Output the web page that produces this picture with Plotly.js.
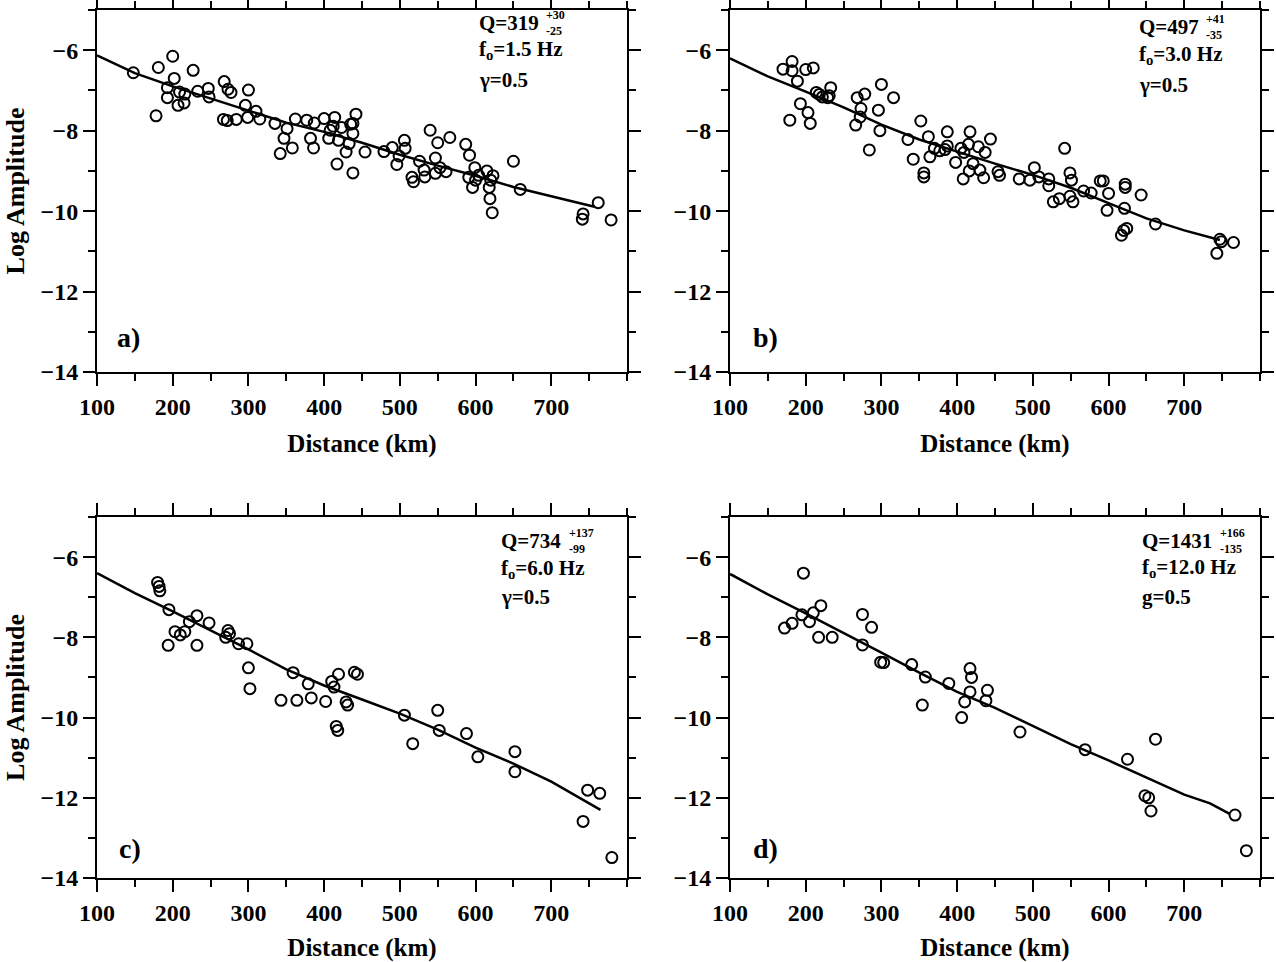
<!DOCTYPE html>
<html><head><meta charset="utf-8">
<script src="https://cdn.plot.ly/plotly-3.0.1.min.js"></script>
<style>html,body{margin:0;padding:0;background:#fff}</style>
</head><body><div id="plot" style="width:1277px;height:962px"></div>
<script>
// ---------- data ----------
const aDist = [148,181,200,227,202,193,209,216,193,215,207,178,233,247,248,268,273,277,300,296,310,299,315,267,272,284,335,351,347,358,342,362,377,387,382,386,400,414,412,408,423,435,442,438,438,433,429,417,438,419,406,454,479,490,506,507,499,496,526,540,550,566,547,553,532,561,516,518,533,547,587,592,599,591,596,600,604,615,623,620,618,619,622,650,659,762,742,741,779];
const aAmp  = [-6.56,-6.43,-6.15,-6.5,-6.70,-6.93,-7.04,-7.09,-7.18,-7.31,-7.37,-7.63,-7.02,-6.95,-7.16,-6.78,-6.97,-7.05,-6.99,-7.37,-7.52,-7.67,-7.71,-7.72,-7.75,-7.72,-7.82,-7.95,-8.19,-8.43,-8.57,-7.71,-7.74,-7.81,-8.19,-8.43,-7.70,-7.67,-7.89,-7.99,-7.92,-7.84,-7.59,-7.82,-8.07,-8.32,-8.53,-8.83,-9.05,-8.24,-8.19,-8.53,-8.52,-8.42,-8.24,-8.44,-8.63,-8.84,-8.76,-7.99,-8.30,-8.17,-8.68,-8.92,-8.98,-9.02,-9.16,-9.27,-9.15,-9.06,-8.34,-8.61,-8.92,-9.16,-9.41,-9.23,-9.11,-9.0,-9.12,-9.23,-9.41,-9.69,-10.04,-8.76,-9.46,-9.79,-10.07,-10.2,-10.22];
const aFitDist = [100,150,200,250,300,350,400,450,500,550,600,650,700,757];
const aFitAmp  = [-6.13,-6.57,-6.9,-7.2,-7.5,-7.8,-8.03,-8.3,-8.6,-8.87,-9.12,-9.4,-9.63,-9.89];

const bDist = [170,182,182,200,210,189,233,214,218,222,229,231,193,203,206,179,268,278,300,316,273,296,272,266,298,284,335,352,362,342,364,356,356,370,377,384,387,387,398,405,409,415,417,428,437,444,421,416,430,435,408,454,456,482,496,502,508,521,521,527,535,542,549,551,549,553,567,577,589,593,600,598,622,622,621,624,620,617,643,662,747,749,765,743];
const bAmp  = [-6.47,-6.28,-6.51,-6.48,-6.44,-6.77,-6.93,-7.05,-7.10,-7.16,-7.18,-7.13,-7.33,-7.55,-7.82,-7.74,-7.18,-7.09,-6.85,-7.18,-7.45,-7.49,-7.66,-7.86,-8.0,-8.48,-8.22,-7.76,-8.15,-8.71,-8.65,-9.05,-9.15,-8.44,-8.5,-8.47,-8.03,-8.38,-8.79,-8.44,-8.54,-8.34,-8.03,-8.40,-8.54,-8.21,-8.82,-9.0,-8.98,-9.17,-9.2,-9.02,-9.11,-9.2,-9.23,-8.92,-9.15,-9.2,-9.37,-9.77,-9.69,-8.44,-9.05,-9.23,-9.63,-9.77,-9.5,-9.55,-9.25,-9.25,-9.56,-9.98,-9.33,-9.41,-9.93,-10.43,-10.48,-10.6,-9.6,-10.32,-10.7,-10.76,-10.78,-11.05];
const bFitDist = [100,150,200,250,300,350,400,450,500,550,600,650,700,747];
const bFitAmp  = [-6.2,-6.65,-7.03,-7.42,-7.85,-8.22,-8.52,-8.82,-9.1,-9.42,-9.8,-10.18,-10.48,-10.72];

const cDist = [180,182,183,195,232,248,222,203,216,210,194,232,273,275,270,287,298,300,302,359,343,364,383,402,379,410,419,413,416,418,429,431,440,444,506,517,550,552,588,603,652,652,748,764,742,780];
const cAmp  = [-6.63,-6.73,-6.84,-7.31,-7.46,-7.64,-7.61,-7.86,-7.86,-7.94,-8.2,-8.2,-7.83,-7.91,-8.0,-8.16,-8.16,-8.76,-9.28,-8.88,-9.57,-9.57,-9.51,-9.6,-9.16,-9.1,-8.92,-9.24,-10.22,-10.32,-9.61,-9.69,-8.87,-8.92,-9.94,-10.65,-9.82,-10.32,-10.4,-10.98,-10.85,-11.35,-11.81,-11.89,-12.59,-13.49];
const cFitDist = [100,150,200,250,300,350,400,450,500,550,600,650,700,765];
const cFitAmp  = [-6.4,-6.9,-7.35,-7.82,-8.3,-8.8,-9.2,-9.55,-9.9,-10.3,-10.75,-11.15,-11.6,-12.3];

const dDist = [197,172,182,195,205,210,220,217,235,275,275,287,299,303,340,358,389,354,417,419,417,410,406,440,438,483,569,625,662,648,653,656,767,782];
const dAmp  = [-6.4,-7.77,-7.65,-7.44,-7.61,-7.39,-7.21,-8.0,-8.0,-7.43,-8.19,-7.75,-8.62,-8.63,-8.68,-8.99,-9.15,-9.69,-8.78,-9.0,-9.36,-9.61,-10.0,-9.32,-9.58,-10.36,-10.8,-11.04,-10.54,-11.95,-12.0,-12.33,-12.43,-13.32];
const dFitDist = [100,150,200,250,300,350,400,450,500,550,600,650,700,734,760];
const dFitAmp  = [-6.42,-6.93,-7.4,-7.88,-8.38,-8.88,-9.36,-9.76,-10.2,-10.66,-11.07,-11.5,-11.92,-12.14,-12.4];

const xTickVals = [100,200,300,400,500,600,700];
const yTickVals = [-6,-8,-10,-12,-14];
const panelLabels = ['a)','b)','c)','d)'];
const qValues = ['319','497','734','1431'];
const qPlus = ['+30','+41','+137','+166'];
const qMinus = ['-25','-35','-99','-135'];
const fLines = ['f<sub>o</sub>=1.5 Hz','f<sub>o</sub>=3.0 Hz','f<sub>o</sub>=6.0 Hz','f<sub>o</sub>=12.0 Hz'];
const gLines = ['γ=0.5','γ=0.5','γ=0.5','g=0.5'];

// ---------- layout ----------
const W = 1277, H = 962;
const FONT = 'Liberation Serif, Times New Roman, serif';
const px = v => v / W, py = v => 1 - v / H;

const panels = [
  {ax:'', dist:aDist, amp:aAmp, fd:aFitDist, fa:aFitAmp, xd:[97,627], yd:[10,372], ytitle:true},
  {ax:'2', dist:bDist, amp:bAmp, fd:bFitDist, fa:bFitAmp, xd:[730,1260], yd:[10,372], ytitle:false},
  {ax:'3', dist:cDist, amp:cAmp, fd:cFitDist, fa:cFitAmp, xd:[97,627], yd:[517,878], ytitle:true},
  {ax:'4', dist:dDist, amp:dAmp, fd:dFitDist, fa:dFitAmp, xd:[730,1260], yd:[517,878], ytitle:false}
];
// text positions per panel (pixels)
const txtPos = [
  {qx:478, qy:23, sx:545, sy:23, fy:50, gy:80, lx:128, ly:338},
  {qx:1138, qy:27, sx:1205, sy:27, fy:55, gy:85, lx:765, ly:338},
  {qx:500, qy:541, sx:568, sy:541, fy:569, gy:597, lx:130, ly:848},
  {qx:1141, qy:541, sx:1219, sy:541, fy:568, gy:597, lx:765, ly:848}
];

const traces = [];
const layout = {
  width: W, height: H,
  margin: {l:0, r:0, t:0, b:0},
  paper_bgcolor: '#fff', plot_bgcolor: '#fff',
  showlegend: false,
  font: {family: FONT, color: '#000', size: 20, weight: 'bold'},
  annotations: []
};

panels.forEach((p, i) => {
  const xa = 'x' + p.ax, ya = 'y' + p.ax;
  traces.push({type:'scatter', mode:'markers', x:p.dist, y:p.amp, xaxis:xa, yaxis:ya,
    marker:{symbol:'circle-open', size:11, color:'#000', line:{width:2, color:'#000'}}});
  traces.push({type:'scatter', mode:'lines', x:p.fd, y:p.fa, xaxis:xa, yaxis:ya,
    line:{color:'#000', width:2.5}});
  layout['xaxis' + p.ax] = {
    domain:[px(p.xd[0]), px(p.xd[1])], anchor:ya, range:[100,800],
    tickvals:xTickVals, ticks:'outside', ticklen:12, tickwidth:2, tickcolor:'#000',
    minor:{dtick:50, tick0:0, ticks:'outside', ticklen:7, tickwidth:2, tickcolor:'#000', showgrid:false},
    showline:true, linewidth:2, linecolor:'#000', mirror:'ticks', showgrid:false, zeroline:false,
    tickfont:{family:FONT, size:24, weight:'bold', color:'#000'},
    title:{text:'Distance (km)', font:{family:FONT, size:25, weight:'bold', color:'#000'}, standoff:16}
  };
  const yax = {
    domain:[py(p.yd[1]), py(p.yd[0])], anchor:xa, range:[-14,-5],
    tickvals:yTickVals, ticks:'outside', ticklen:12, tickwidth:2, tickcolor:'#000',
    minor:{dtick:1, tick0:-13, ticks:'outside', ticklen:7, tickwidth:2, tickcolor:'#000', showgrid:false},
    showline:true, linewidth:2, linecolor:'#000', mirror:'ticks', showgrid:false, zeroline:false,
    tickfont:{family:FONT, size:24, weight:'bold', color:'#000'}
  };
  if (p.ytitle) yax.title = {text:'Log Amplitude', font:{family:FONT, size:26, weight:'bold', color:'#000'}, standoff:8};
  layout['yaxis' + p.ax] = yax;
  const t = txtPos[i];
  const tf = {family:FONT, size:21, weight:'bold', color:'#000'};
  const sf = {family:FONT, size:12, weight:'bold', color:'#000'};
  const A = (text, x, y, font, xanchor) => layout.annotations.push({
    text, x:px(x), y:py(y), xref:'paper', yref:'paper', xanchor:xanchor||'left', yanchor:'middle',
    showarrow:false, font, borderpad:0, align:'left'});
  A('Q=' + qValues[i], t.qx, t.qy, tf);
  A(qPlus[i] + '<br>' + qMinus[i], t.sx, t.sy, sf);
  A(fLines[i], t.qx, t.fy, tf);
  A(gLines[i], t.qx, t.gy, tf);
  A(panelLabels[i], t.lx, t.ly, {family:FONT, size:28, weight:'bold', color:'#000'}, 'center');
});

Plotly.newPlot('plot', traces, layout, {staticPlot:true, displayModeBar:false});
</script></body></html>
